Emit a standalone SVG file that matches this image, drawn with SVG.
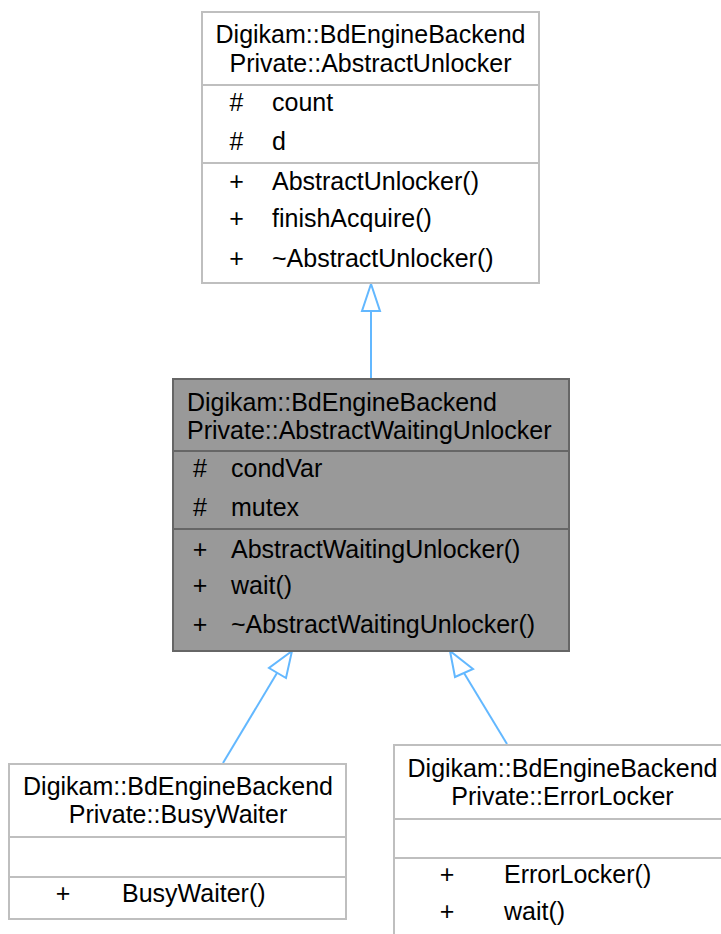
<svg xmlns="http://www.w3.org/2000/svg" width="721" height="934" viewBox="0 0 721 934">
<style>
text{font-family:"Liberation Sans",Arial,sans-serif;font-size:25px;fill:#000}
.c{text-anchor:middle}
.box{fill:#fff;stroke:#bfbfbf;stroke-width:2}
.sep{stroke:#bfbfbf;stroke-width:2}
.boxd{fill:#999;stroke:#666;stroke-width:2}
.sepd{stroke:#666;stroke-width:2}
.edge{stroke:#63b8ff;stroke-width:2;fill:none}
.head{fill:#fff;stroke:#63b8ff;stroke-width:2}
</style>
<rect width="721" height="934" fill="#fff"/>
<g id="connectors">
<line class="edge" x1="371" y1="311" x2="371" y2="378"/>
<polygon class="head" points="371,284 362,311 380,311"/>
<line class="edge" x1="223" y1="763" x2="277" y2="673"/>
<polygon class="head" points="292,651 269,668 286,678"/>
<line class="edge" x1="507" y1="744" x2="464" y2="673"/>
<polygon class="head" points="450,651 455,677 473,669"/>
</g>
<g id="AbstractUnlocker">
<rect class="box" x="202" y="12" width="337" height="271"/>
<line class="sep" x1="202" y1="85" x2="539" y2="85"/>
<line class="sep" x1="202" y1="163" x2="539" y2="163"/>
<text class="c" x="370.5" y="43">Digikam::BdEngineBackend</text>
<text class="c" x="370.5" y="72">Private::AbstractUnlocker</text>
<text class="c" x="236.5" y="111">#</text><text x="272" y="111">count</text>
<text class="c" x="236.5" y="150">#</text><text x="272" y="150">d</text>
<text class="c" x="236.5" y="190">+</text><text x="272" y="190">AbstractUnlocker()</text>
<text class="c" x="236.5" y="227">+</text><text x="272" y="227">finishAcquire()</text>
<text class="c" x="236.5" y="267">+</text><text x="272" y="267">~AbstractUnlocker()</text>
</g>
<g id="AbstractWaitingUnlocker">
<rect class="boxd" x="173" y="379" width="396" height="272"/>
<line class="sepd" x1="173" y1="451" x2="569" y2="451"/>
<line class="sepd" x1="173" y1="529" x2="569" y2="529"/>
<text x="187" y="411">Digikam::BdEngineBackend</text>
<text x="187" y="439">Private::AbstractWaitingUnlocker</text>
<text class="c" x="200" y="477">#</text><text x="231" y="477">condVar</text>
<text class="c" x="200" y="516">#</text><text x="231" y="516">mutex</text>
<text class="c" x="200" y="558">+</text><text x="231" y="558">AbstractWaitingUnlocker()</text>
<text class="c" x="200" y="594">+</text><text x="231" y="594">wait()</text>
<text class="c" x="200" y="633">+</text><text x="231" y="633">~AbstractWaitingUnlocker()</text>
</g>
<g id="BusyWaiter">
<rect class="box" x="9" y="764" width="337" height="155"/>
<line class="sep" x1="9" y1="837" x2="346" y2="837"/>
<line class="sep" x1="9" y1="877" x2="346" y2="877"/>
<text class="c" x="178" y="795">Digikam::BdEngineBackend</text>
<text class="c" x="178" y="823">Private::BusyWaiter</text>
<text class="c" x="63" y="902">+</text><text x="122" y="902">BusyWaiter()</text>
</g>
<g id="ErrorLocker">
<rect class="box" x="394" y="745" width="337" height="200"/>
<line class="sep" x1="394" y1="819" x2="731" y2="819"/>
<line class="sep" x1="394" y1="858" x2="731" y2="858"/>
<text class="c" x="562.5" y="777">Digikam::BdEngineBackend</text>
<text class="c" x="562.5" y="805">Private::ErrorLocker</text>
<text class="c" x="447" y="883">+</text><text x="504" y="883">ErrorLocker()</text>
<text class="c" x="447" y="920">+</text><text x="504" y="920">wait()</text>
</g>
</svg>
